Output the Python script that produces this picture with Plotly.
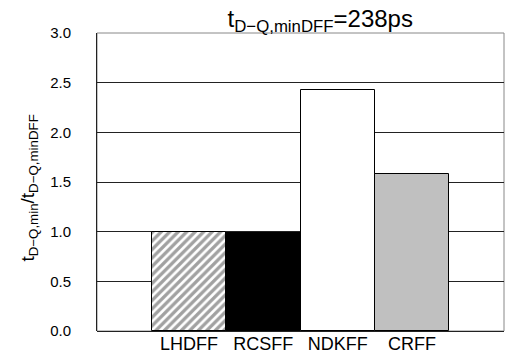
import plotly.graph_objects as go

categories = ["LHDFF", "RCSFF", "NDKFF", "CRFF"]
values = [1.00, 0.99, 2.43, 1.58]
fill_colors = ["white", "black", "white", "#c0c0c0"]
patterns = ["/", "", "", ""]
y_ticks = [0.0, 0.5, 1.0, 1.5, 2.0, 2.5, 3.0]

FONT = "Liberation Sans, Arial, sans-serif"
xpos = list(range(len(categories)))

fig = go.Figure()
fig.add_trace(go.Bar(
    x=xpos, y=values, width=1.0,
    marker=dict(
        color=fill_colors,
        line=dict(color="black", width=1),
        pattern=dict(shape=patterns, fgcolor="black", bgcolor="white",
                     size=6, solidity=0.55, fillmode="overlay"),
    ),
    showlegend=False,
    hoverinfo="skip",
))

fig.update_layout(
    width=510, height=360,
    margin=dict(l=97, r=6, t=33, b=27),
    paper_bgcolor="white", plot_bgcolor="white",
    font=dict(family=FONT, color="black"),
    bargap=0,
    title=dict(text="t<sub>D−Q,minDFF</sub>=238ps", x=0.628, xanchor="center",
               xref="container", y=0.925, yanchor="bottom", yref="container",
               font=dict(size=24, family=FONT, color="black")),
    xaxis=dict(range=[-1.24, 4.24], tickvals=xpos, ticktext=categories,
               showgrid=False, zeroline=False, showline=False, ticks="",
               tickfont=dict(size=18, family=FONT), ticklabelstandoff=0),
    yaxis=dict(range=[0, 3.0], tickvals=y_ticks, tickformat=".1f",
               showgrid=True, gridcolor="#222", gridwidth=1,
               zeroline=True, zerolinecolor="#222", zerolinewidth=1,
               showline=True, linecolor="#222", linewidth=1,
               ticks="", ticklabelstandoff=22,
               tickfont=dict(size=15, family=FONT)),
    shapes=[dict(type="rect", xref="paper", yref="paper", x0=0, x1=1, y0=0, y1=1,
                 line=dict(color="#888", width=1), layer="below")],
    annotations=[dict(text="t<sub>D−Q,min</sub>/t<sub>D−Q,minDFF</sub>",
                      xref="paper", yref="paper", x=-0.168, y=0.48,
                      xanchor="center", yanchor="middle",
                      textangle=-90, showarrow=False,
                      font=dict(size=19, family=FONT, color="black"))],
)

fig.write_html("out.html", config={"displayModeBar": False},
               post_script="document.body.style.margin='0';document.body.style.overflow='hidden';")
